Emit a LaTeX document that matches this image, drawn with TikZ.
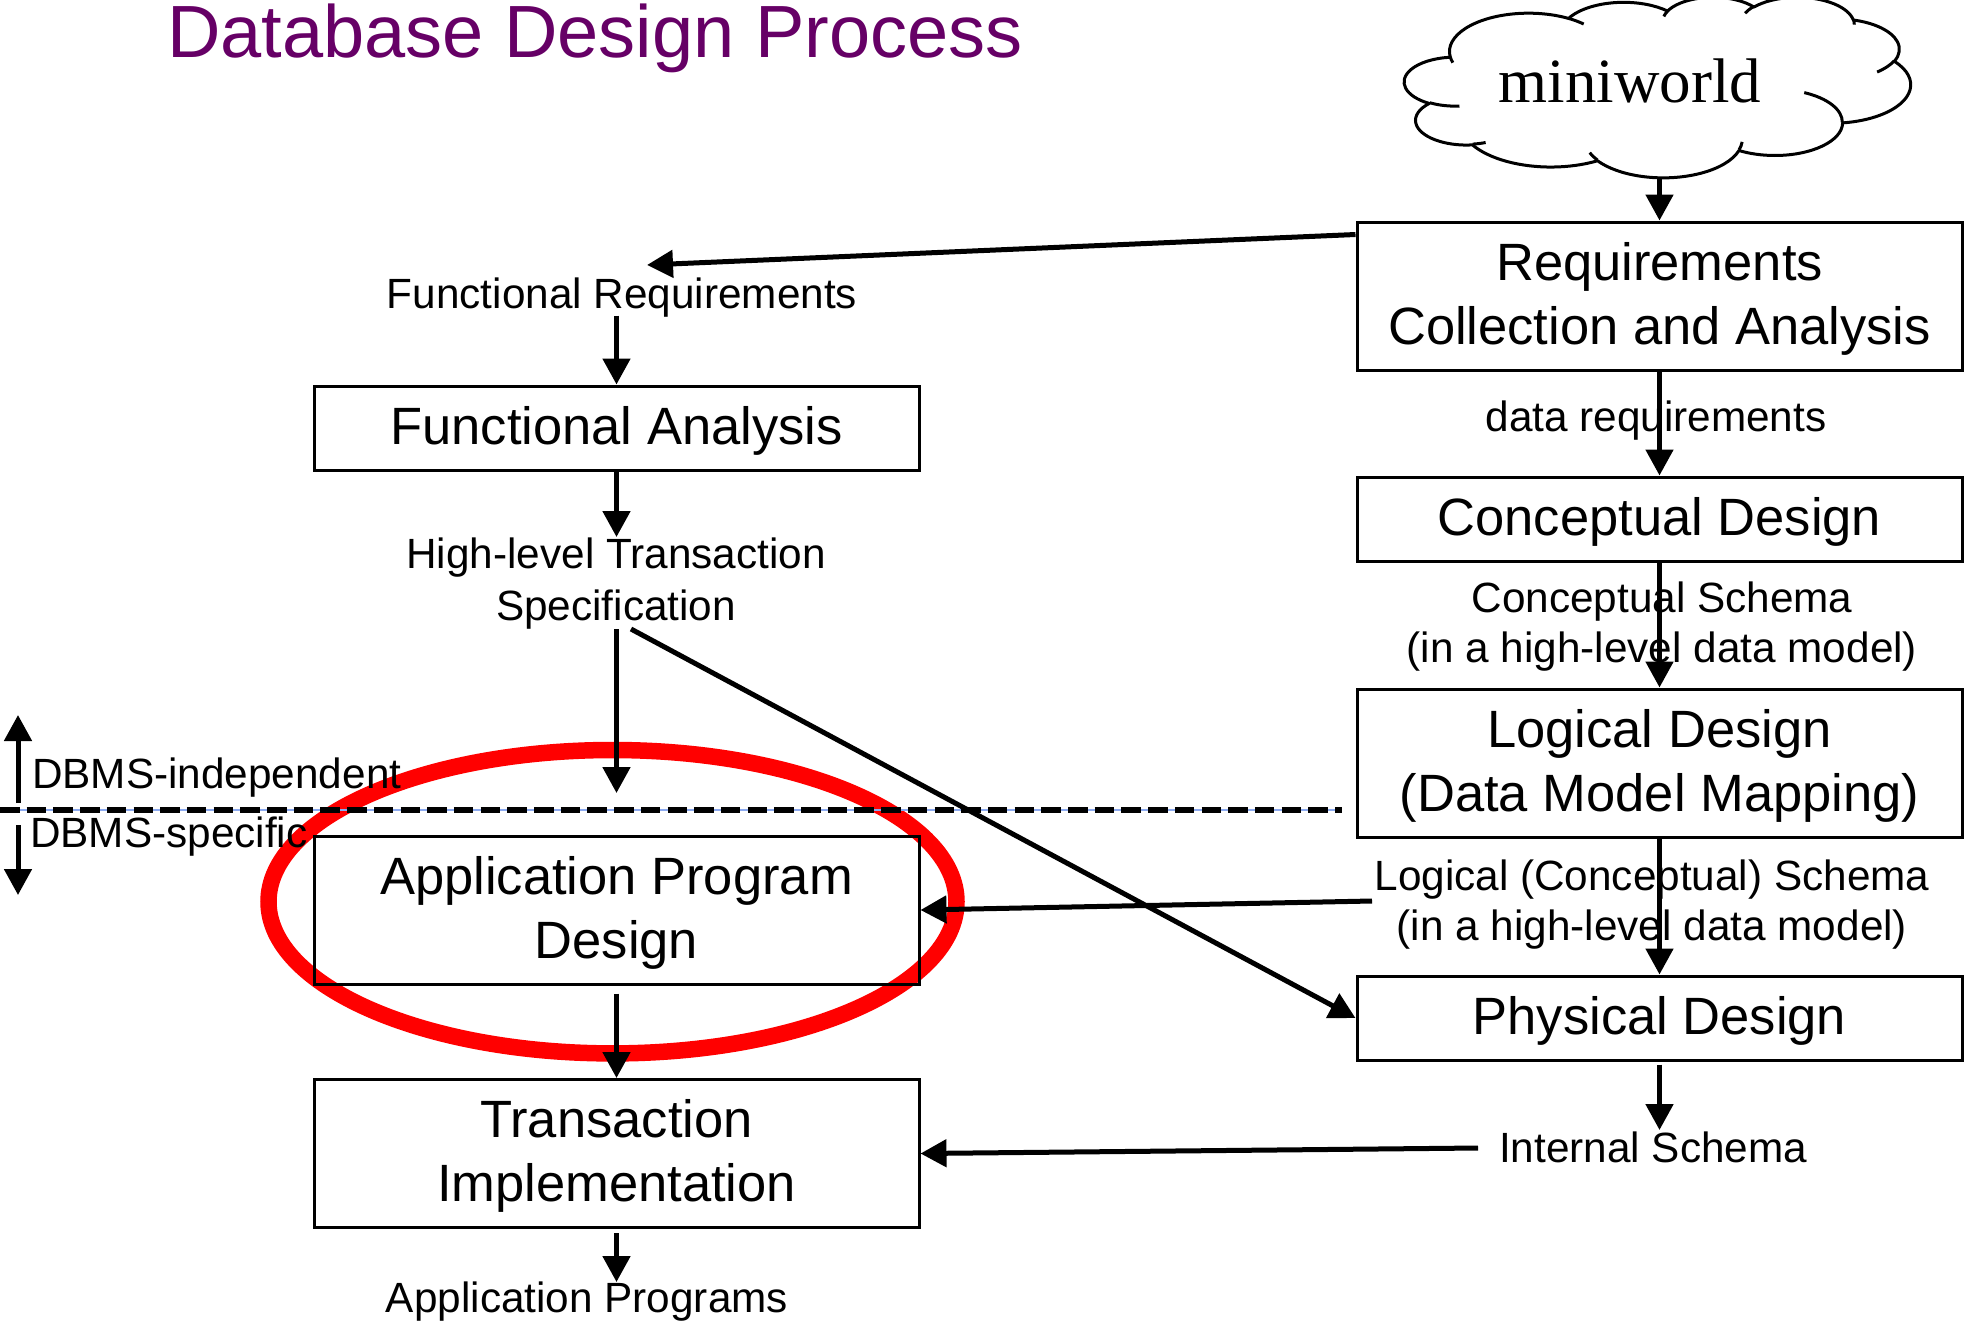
\documentclass[tikz,border=0pt]{standalone}
\usepackage{fontspec}
\usetikzlibrary{arrows.meta,calc}
\newfontfamily\boxfont{Liberation Sans}
\newfontfamily\lblfont{Liberation Sans}
\newfontfamily\ttlfont{Liberation Sans}
\newfontfamily\cldfont{Liberation Serif}
\definecolor{ttlpurple}{RGB}{102,0,102}
\definecolor{selblue}{RGB}{140,170,240}
\newcommand\cldcalc[4]{%
  \pgfmathsetmacro\cldtmpA{atan2((#1)*sin(#3),(#2)*cos(#3))}%
  \pgfmathsetmacro\cldtmpB{atan2((#1)*sin((#3)+(#4)),(#2)*cos((#3)+(#4)))}%
  \pgfmathsetmacro\cldtmpD{mod(\cldtmpB-\cldtmpA+720,360)}%
  \global\let\cldA\cldtmpA
  \global\let\cldD\cldtmpD}
\tikzset{
  dbox/.style={draw, line width=3pt, minimum width=605pt, inner sep=0pt},
  arr/.style={line width=5pt, -{Triangle[length=26pt,width=27pt]}},
  dashline/.style={line width=6.5pt, dash pattern=on 19.5pt off 7.2pt},
  txt/.style={inner sep=0pt, anchor=base},
  boxtxt/.style={txt, font=\boxfont\fontsize{52.5}{64}\selectfont},
  lbltxt/.style={txt, font=\lblfont\fontsize{42.3}{50}\selectfont},
  cloudline/.style={line width=3pt, line join=round},
  cldarc/.style n args={4}{insert path={\pgfextra{\cldcalc{#1}{#2}{#3}{#4}} arc[x radius=#1, y radius=#2, start angle=\cldA, delta angle=\cldD]}}
}
\begin{document}
\begin{tikzpicture}[x=1pt,y=-1pt]
\useasboundingbox (0,0) rectangle (1968,1326);

% red highlight ellipse (behind everything)
\draw[red, line width=16.5pt] (612.5,901.7) ellipse [x radius=344, y radius=151.7];

% title
\node[txt, anchor=base west] (title) at (167,57)
  {\ttlfont\fontsize{74}{80}\selectfont\color{ttlpurple}Database Design Process};

% cloud (miniworld)
\begin{scope}[shift={(1404.5pt,3.3pt)}, x={(1.17130pt,0pt)}, y={(0pt,-0.41782pt)}]
\draw[cloudline] (39.00,143.70)
  [cldarc={67.53}{91.90}{-190.4875}{123.7805}]
  [cldarc={53.33}{72.67}{-144.1024}{89.9452}]
  [cldarc={43.65}{59.45}{-145.8079}{99.7230}]
  [cldarc={48.57}{65.95}{-130.9861}{117.2417}]
  [cldarc={53.33}{72.73}{-78.7089}{109.0269}]
  [cldarc={67.75}{92.20}{-46.2673}{130.2690}]
  [cldarc={57.85}{78.67}{0.6250}{114.0333}]
  [cldarc={67.52}{92.15}{22.4516}{115.1726}]
  [cldarc={77.20}{105.43}{66.2426}{75.7110}]
  [cldarc={43.60}{59.18}{-274.9421}{146.7356}]
  [cldarc={43.45}{59.45}{-246.8285}{152.5189}]
  -- cycle;
\draw[cloudline]
  (46.93,261.77) [cldarc={43.45}{59.45}{86.7420}{26.4295}]
  (69.28,348.99) [cldarc={43.60}{59.18}{73.6105}{11.4475}]
  (164.78,390.90) [cldarc={67.52}{92.15}{137.6242}{14.0811}]
  (288.27,347.51) [cldarc={67.52}{92.15}{6.4533}{15.9984}]
  (341.29,229.54) [cldarc={57.85}{78.67}{-70.2924}{70.9174}]
  (417.98,153.54) [cldarc={53.33}{72.73}{30.3180}{27.7515}]
  (383.24,54.26) [cldarc={48.57}{65.95}{-13.7443}{14.8550}]
  (290.78,39.52) [cldarc={48.57}{65.95}{-149.1815}{18.1962}]
  (221.41,47.20) [cldarc={43.65}{59.45}{-163.4943}{17.6881}]
  (140.00,51.92) [cldarc={67.53}{91.90}{-66.7070}{12.3194}]
  (41.27,157.89) [cldarc={67.53}{91.90}{157.6544}{11.8582}];
\end{scope}
\node[txt] (mini) at (1630,102) {\cldfont\fontsize{63}{70}\selectfont miniworld};

% boxes
\node[dbox, minimum height=148pt] (req) at (1659.5,296) {};
\node[dbox, minimum height=84pt]  (fa)  at (616.5,428) {};
\node[dbox, minimum height=84pt]  (cd)  at (1659.5,519) {};
\node[dbox, minimum height=148pt] (ld)  at (1659.5,763) {};
\node[dbox, minimum height=148pt] (apd) at (616.5,910) {};
\node[dbox, minimum height=84pt]  (pd)  at (1659.5,1018) {};
\node[dbox, minimum height=148pt] (ti)  at (616.5,1153.5) {};

% box texts
\node[boxtxt] (reqT) at (1659.5,344) {\begin{tabular}[b]{@{}c@{}}Requirements\\Collection and Analysis\end{tabular}};
\node[boxtxt] (faT)  at (616.5,444) {Functional Analysis};
\node[boxtxt] (cdT)  at (1659.5,535) {Conceptual Design};
\node[boxtxt] (ldT)  at (1659.5,811) {\begin{tabular}[b]{@{}c@{}}Logical Design\\(Data Model Mapping)\end{tabular}};
\node[boxtxt] (apdT) at (616.5,958) {\begin{tabular}[b]{@{}c@{}}Application Program\\Design\end{tabular}};
\node[boxtxt] (pdT)  at (1659.5,1034) {Physical Design};
\node[boxtxt] (tiT)  at (616.5,1201.5) {\begin{tabular}[b]{@{}c@{}}Transaction\\Implementation\end{tabular}};

% labels
\node[lbltxt] (frlab) at (622,308) {Functional Requirements};
\node[lbltxt, font=\lblfont\fontsize{42.3}{52}\selectfont] (hlt) at (616,620)
  {\begin{tabular}[b]{@{}c@{}}High-level Transaction\\Specification\end{tabular}};
\node[lbltxt] (drlab) at (1656,431) {data requirements};
\node[lbltxt] (cslab) at (1662,662)
  {\begin{tabular}[b]{@{}c@{}}Conceptual Schema\\(in a high-level data model)\end{tabular}};
\node[lbltxt] (lcslab) at (1652,940)
  {\begin{tabular}[b]{@{}c@{}}Logical (Conceptual) Schema\\(in a high-level data model)\end{tabular}};
\node[lbltxt] (islab) at (1653,1162) {Internal Schema};
\node[lbltxt] (aplab) at (587,1312) {Application Programs};
\node[lbltxt, anchor=base west] (dbi) at (32,788) {DBMS-independent};
\node[lbltxt, anchor=base west] (dbs) at (30,847) {DBMS-specific};

% dashed separator
\draw[selblue, line width=1.2pt] (0,810) -- (1342,810);
\draw[dashline] (0,810) -- (1342,810);

% free connector ends
\coordinate (cloudb) at (1659.5,177);
\coordinate (frtip) at (647,265);
\coordinate (hltTop) at (616.5,537);
\coordinate (hltBot) at (616.5,629);
\coordinate (dashTip) at (616.5,793);
\coordinate (hltDiag) at (631,629);
\coordinate (aptip) at (616.5,1282);
\coordinate (istip) at (1659.5,1130);
\coordinate (lcsout) at (1372,901);
\coordinate (isout) at (1478,1148);
\coordinate (dbA) at (18,803);
\coordinate (dbB) at (18,715);
\coordinate (dbC) at (18,825);
\coordinate (dbD) at (18,895);

% connectors
\draw[arr] (cloudb) -- (req.north);
\draw[arr] ($(req.north west)+(0,14)$) -- (frtip);
\draw[arr] ($(fa.north)+(0,-69)$) -- (fa.north);
\draw[arr] (fa.south) -- (hltTop);
\draw[arr] (hltBot) -- (dashTip);
\draw[arr] (hltDiag) -- (pd.west);
\draw[arr] ($(apd.south)+(0,8)$) -- (ti.north);
\draw[arr] ($(ti.south)+(0,4)$) -- (aptip);
\draw[arr] (req.south) -- (cd.north);
\draw[arr] (cd.south) -- (ld.north);
\draw[arr] (ld.south) -- (pd.north);
\draw[arr] ($(pd.south)+(0,3)$) -- (istip);
\draw[arr] (lcsout) -- (apd.east);
\draw[arr] (isout) -- (ti.east);
\draw[arr] (dbA) -- (dbB);
\draw[arr] (dbC) -- (dbD);
\end{tikzpicture}
\end{document}
